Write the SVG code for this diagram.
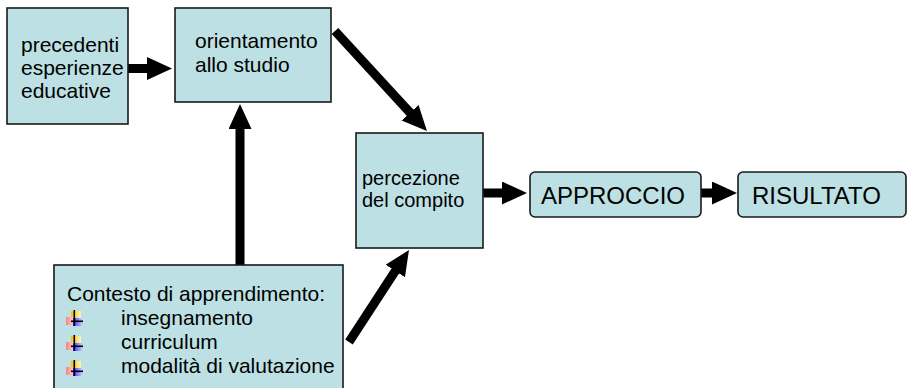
<svg xmlns="http://www.w3.org/2000/svg" width="911" height="388" viewBox="0 0 911 388">
<defs>
<style>
.box{fill:#BCE0E3;stroke:#1a1a1a;stroke-width:1.6}
.t{font-family:"Liberation Sans",Arial,sans-serif;fill:#000}
.a{stroke:#000;stroke-width:9;fill:none;marker-end:url(#ah)}
</style>
<marker id="ah" markerUnits="userSpaceOnUse" markerWidth="26" markerHeight="24" refX="2" refY="11.5" orient="auto">
<path d="M0,0 L25,11.5 L0,23 z" fill="#000"/>
</marker>
<linearGradient id="gy" x1="0" y1="0" x2="1" y2="0"><stop offset="0" stop-color="#F5C400"/><stop offset="1" stop-color="#FFF2C0"/></linearGradient>
<linearGradient id="gr" x1="0" y1="0" x2="1" y2="0"><stop offset="0" stop-color="#FF8080"/><stop offset="1" stop-color="#FFD0D8"/></linearGradient>
<linearGradient id="gb" x1="0" y1="0" x2="1" y2="0"><stop offset="0" stop-color="#3030FF"/><stop offset="1" stop-color="#C8C8FF"/></linearGradient>
<g id="bul">
<rect x="5" y="1" width="10" height="8" fill="url(#gy)"/>
<rect x="0" y="7" width="8" height="8" fill="url(#gr)"/>
<rect x="7" y="8" width="9" height="8" fill="url(#gb)"/>
<rect x="7.5" y="0" width="1.6" height="16" fill="#000"/>
<rect x="5" y="10.5" width="12" height="1.6" fill="#000"/>
</g>
</defs>

<g id="connectors">
<line class="a" x1="128" y1="68.5" x2="149" y2="68.5"/>
<line class="a" x1="240" y1="266" x2="240" y2="127"/>
<line class="a" x1="335" y1="31" x2="411.4" y2="114.1"/>
<line class="a" x1="349" y1="342" x2="396.4" y2="269.3"/>
<line class="a" x1="483" y1="193" x2="504" y2="193"/>
<line class="a" x1="701" y1="193" x2="714" y2="193"/>
</g>

<g id="precedenti">
<rect class="box" x="7" y="8" width="121" height="116"/>
<text class="t" font-size="21" x="21" y="52">precedenti</text>
<text class="t" font-size="21" x="21" y="75">esperienze</text>
<text class="t" font-size="21" x="21" y="98">educative</text>
</g>

<g id="orientamento">
<rect class="box" x="175" y="8" width="156" height="94"/>
<text class="t" font-size="21" x="195" y="48">orientamento</text>
<text class="t" font-size="21" x="195" y="72">allo studio</text>
</g>

<g id="percezione">
<rect class="box" x="356" y="133" width="127" height="115"/>
<text class="t" font-size="20" x="362" y="185">percezione</text>
<text class="t" font-size="20" x="362" y="207">del compito</text>
</g>

<g id="approccio">
<rect class="box" x="530" y="172" width="171" height="45" rx="5"/>
<text class="t" font-size="24" x="541" y="204">APPROCCIO</text>
</g>

<g id="risultato">
<rect class="box" x="738" y="172" width="168" height="45" rx="5"/>
<text class="t" font-size="24" x="752" y="204">RISULTATO</text>
</g>

<g id="contesto">
<rect class="box" x="54" y="265" width="289" height="130"/>
<text class="t" font-size="21" x="67" y="301">Contesto di apprendimento:</text>
<use href="#bul" x="66" y="310"/>
<use href="#bul" x="66" y="335"/>
<use href="#bul" x="66" y="360"/>
<text class="t" font-size="21" x="121" y="325">insegnamento</text>
<text class="t" font-size="21" x="121" y="349">curriculum</text>
<text class="t" font-size="21" x="121" y="373">modalità di valutazione</text>
</g>
</svg>
